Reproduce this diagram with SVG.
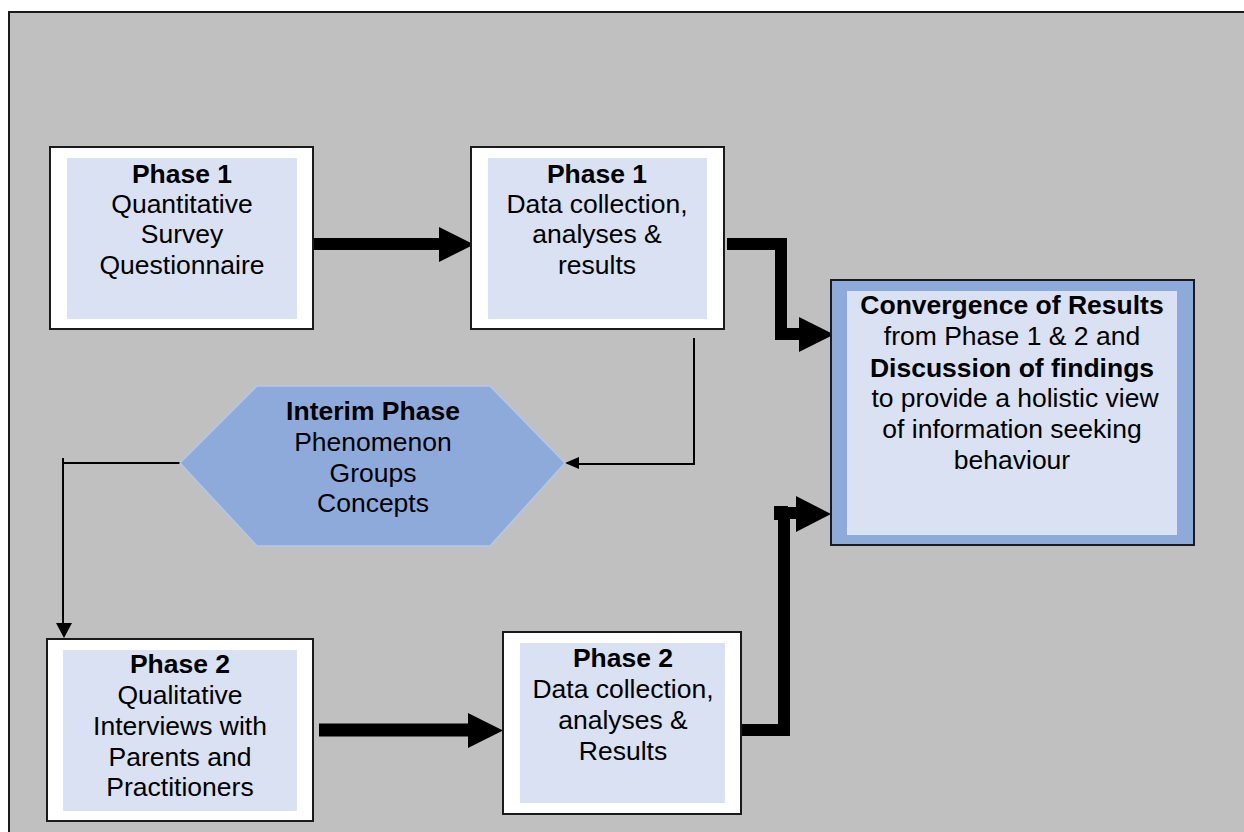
<svg xmlns="http://www.w3.org/2000/svg" width="1244" height="832" viewBox="0 0 1244 832">
  <style>
    .frame { fill: #c0c0c0; stroke: #1a1a1a; stroke-width: 2; }
    .box-outer { fill: #ffffff; stroke: #1a1a1a; stroke-width: 2; }
    .box-inner { fill: #d9e1f2; stroke: none; }
    .conv-outer { fill: #8eaadb; stroke: #1a1a1a; stroke-width: 2; }
    .hex { fill: #8eaadb; stroke: #b4c7e7; stroke-width: 1.5; }
    text { font-family: "Liberation Sans", Arial, sans-serif; font-size: 26.5px; fill: #000; text-anchor: middle; }
    .b { font-weight: bold; }
    .thick { fill: none; stroke: #000; stroke-width: 12; stroke-linejoin: miter; stroke-linecap: butt; }
    .thin { fill: none; stroke: #000; stroke-width: 2; }
    .head { fill: #000; }
  </style>

  <!-- background panel -->
  <rect class="frame" x="9" y="12" width="1250" height="830"/>

  <!-- connectors -->
  <g id="connectors">
    <!-- Phase 1 survey -> Phase 1 data collection -->
    <path class="thick" d="M 314 244 H 441"/>
    <polygon class="head" points="439,227 474,244.5 439,262"/>

    <!-- Phase 1 data collection -> Convergence -->
    <path class="thick" d="M 727 244 H 781 V 334 H 801"/>
    <polygon class="head" points="799,317 834,334.5 799,352"/>

    <!-- Phase 1 data collection -> Interim phase -->
    <path class="thin" d="M 694 338 V 464 H 578"/>
    <polygon class="head" points="579,457 565,463 579,469"/>

    <!-- Interim phase -> Phase 2 qualitative -->
    <path class="thin" d="M 180 463 H 63"/>
    <path class="thin" d="M 63 458 V 625"/>
    <polygon class="head" points="56,623 72,623 64,638"/>

    <!-- Phase 2 qualitative -> Phase 2 data collection -->
    <path class="thick" d="M 319 730 H 470" style="stroke-width:13"/>
    <polygon class="head" points="468,713 503,730.5 468,748"/>

    <!-- Phase 2 data collection -> Convergence -->
    <path class="thick" d="M 741 730 H 784 V 513 H 798"/>
    <rect class="head" x="774" y="506" width="14" height="14"/>
    <polygon class="head" points="796,496 831,514 796,532"/>
  </g>

  <!-- Phase 1: survey -->
  <g id="phase1-survey">
    <rect class="box-outer" x="50" y="147" width="263" height="182"/>
    <rect class="box-inner" x="67" y="158" width="230" height="161"/>
    <text class="b" x="182" y="183">Phase 1</text>
    <text x="182" y="213">Quantitative</text>
    <text x="182" y="243">Survey</text>
    <text x="182" y="274">Questionnaire</text>
  </g>

  <!-- Phase 1: data collection -->
  <g id="phase1-data">
    <rect class="box-outer" x="471" y="147" width="253" height="182"/>
    <rect class="box-inner" x="488" y="158" width="219" height="161"/>
    <text class="b" x="597" y="183">Phase 1</text>
    <text x="597" y="213">Data collection,</text>
    <text x="597" y="243">analyses &amp;</text>
    <text x="597" y="274">results</text>
  </g>

  <!-- Convergence of results -->
  <g id="convergence">
    <rect class="conv-outer" x="831" y="280" width="363" height="265"/>
    <rect class="box-inner" x="847" y="291" width="330" height="244"/>
    <text class="b" x="1012" y="314">Convergence of Results</text>
    <text x="1012" y="345">from Phase 1 &amp; 2 and</text>
    <text class="b" x="1012" y="377">Discussion of findings</text>
    <text x="1015" y="407">to provide a holistic view</text>
    <text x="1012" y="438">of information seeking</text>
    <text x="1012" y="469">behaviour</text>
  </g>

  <!-- Interim phase -->
  <g id="interim">
    <polygon class="hex" points="180,463 257,386 490,386 565,463 490,546 257,546"/>
    <text class="b" x="373" y="420">Interim Phase</text>
    <text x="373" y="451">Phenomenon</text>
    <text x="373" y="482">Groups</text>
    <text x="373" y="512">Concepts</text>
  </g>

  <!-- Phase 2: qualitative -->
  <g id="phase2-interviews">
    <rect class="box-outer" x="47" y="639" width="266" height="182"/>
    <rect class="box-inner" x="63" y="650" width="234" height="161"/>
    <text class="b" x="180" y="673">Phase 2</text>
    <text x="180" y="704">Qualitative</text>
    <text x="180" y="735">Interviews with</text>
    <text x="180" y="766">Parents and</text>
    <text x="180" y="796">Practitioners</text>
  </g>

  <!-- Phase 2: data collection -->
  <g id="phase2-data">
    <rect class="box-outer" x="503" y="632" width="238" height="182"/>
    <rect class="box-inner" x="520" y="643" width="205" height="160"/>
    <text class="b" x="623" y="667">Phase 2</text>
    <text x="623" y="698">Data collection,</text>
    <text x="623" y="729">analyses &amp;</text>
    <text x="623" y="760">Results</text>
  </g>
</svg>
